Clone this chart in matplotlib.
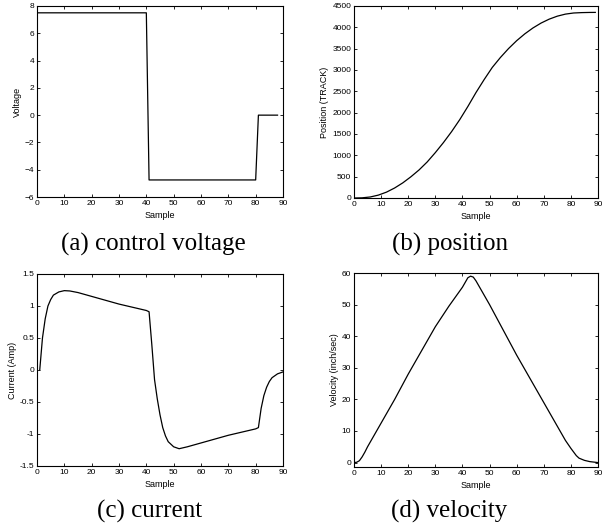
import matplotlib
matplotlib.use("Agg")
import matplotlib.pyplot as plt

# Données
volt_x = [0, 40, 41, 80, 81, 88]
volt_y = [7.5, 7.5, -4.75, -4.75, 0, 0]

pos_x = [0, 3, 6, 9, 12, 15, 18, 21, 24, 27, 30, 33, 36, 39, 42, 45, 48, 51,
         54, 57, 60, 63, 66, 69, 72, 75, 78, 81, 84, 87, 89]
pos_y = [0, 4, 24, 68, 138, 235, 355, 498, 658, 845, 1064, 1300, 1556, 1836,
         2145, 2472, 2775, 3060, 3293, 3502, 3687, 3847, 3985, 4100, 4192,
         4262, 4310, 4336, 4345, 4349, 4350]

cur_x = [1, 2, 3, 4, 5, 6, 8, 10, 12, 15, 20, 30, 40, 41, 42, 43, 44, 45, 46,
         47, 48, 50, 52, 55, 60, 70, 80, 81, 82, 83, 84, 85, 86, 88, 90]
cur_y = [0, 0.5, 0.8, 1.0, 1.1, 1.17, 1.22, 1.24, 1.235, 1.21, 1.15, 1.03, 0.93,
         0.91, 0.4, -0.15, -0.45, -0.7, -0.9, -1.03, -1.12, -1.2, -1.23, -1.2,
         -1.14, -1.02, -0.92, -0.9, -0.6, -0.4, -0.27, -0.18, -0.12, -0.06, -0.03]

vel_x = [0, 1, 2, 3, 4, 5, 7, 10, 15, 20, 25, 30, 35, 40, 41, 42, 43, 44, 45,
         47, 50, 55, 60, 65, 70, 75, 78, 80, 82, 83, 85, 87, 89, 90]
vel_y = [0, 0.1, 0.6, 1.8, 3.3, 5, 8, 12.5, 20, 28, 35.5, 43, 49.5, 55.5, 57,
         58.5, 59, 58.7, 57.5, 54.5, 50, 42, 34, 26.5, 19, 11.5, 7, 4.5, 2.2,
         1.4, 0.7, 0.3, 0.1, 0]

captions = ["(a) control voltage", "(b) position", "(c) current", "(d) velocity"]

W, H = 603, 527
fig = plt.figure(figsize=(W / 100, H / 100), dpi=100)
plt.rcParams["font.family"] = ["Liberation Sans", "DejaVu Sans"]

def px_axes(l, t, r, b):
    return fig.add_axes([l / W, 1 - b / H, (r - l) / W, (b - t) / H])

def style(ax, ylabel):
    ax.tick_params(direction="in", top=True, right=True, labelsize=6,
                   length=2.5, width=0.6, pad=2)
    for s in ax.spines.values():
        s.set_linewidth(0.8)
    ax.set_xlabel("Sample", fontsize=6.5, labelpad=3)
    ax.set_ylabel(ylabel, fontsize=6.5, labelpad=2)
    ax.set_xticks(range(0, 91, 10))
    ax.set_xlim(0, 90)

ax1 = px_axes(37, 6, 283, 197)
ax1.plot(volt_x, volt_y, color="black", linewidth=0.9)
ax1.set_ylim(-6, 8)
ax1.set_yticks(range(-6, 9, 2))
style(ax1, "Voltage")

ax2 = px_axes(354, 6, 598, 198)
ax2.plot(pos_x, pos_y, color="black", linewidth=0.9)
ax2.set_ylim(0, 4500)
ax2.set_yticks(range(0, 4501, 500))
style(ax2, "Position (TRACK)")

ax3 = px_axes(37, 274, 283, 466)
ax3.plot(cur_x, cur_y, color="black", linewidth=0.9)
ax3.set_ylim(-1.5, 1.5)
ax3.set_yticks([-1.5, -1, -0.5, 0, 0.5, 1, 1.5])
ax3.set_yticklabels(["-1.5", "-1", "-0.5", "0", "0.5", "1", "1.5"])
style(ax3, "Current (Amp)")

ax4 = px_axes(354, 273, 598, 467)
ax4.plot(vel_x, vel_y, color="black", linewidth=0.9)
ax4.set_ylim(-1.4, 60)
ax4.set_yticks(range(0, 61, 10))
style(ax4, "Velocity (inch/sec)")

cap_pos = [(153, 244), (450, 244), (150, 511), (449, 511)]
for txt, (cx, cy) in zip(captions, cap_pos):
    fig.text(cx / W, 1 - cy / H, txt, ha="center", va="center",
             fontsize=18, family="Liberation Serif")

fig.savefig("out.png", dpi=100)
